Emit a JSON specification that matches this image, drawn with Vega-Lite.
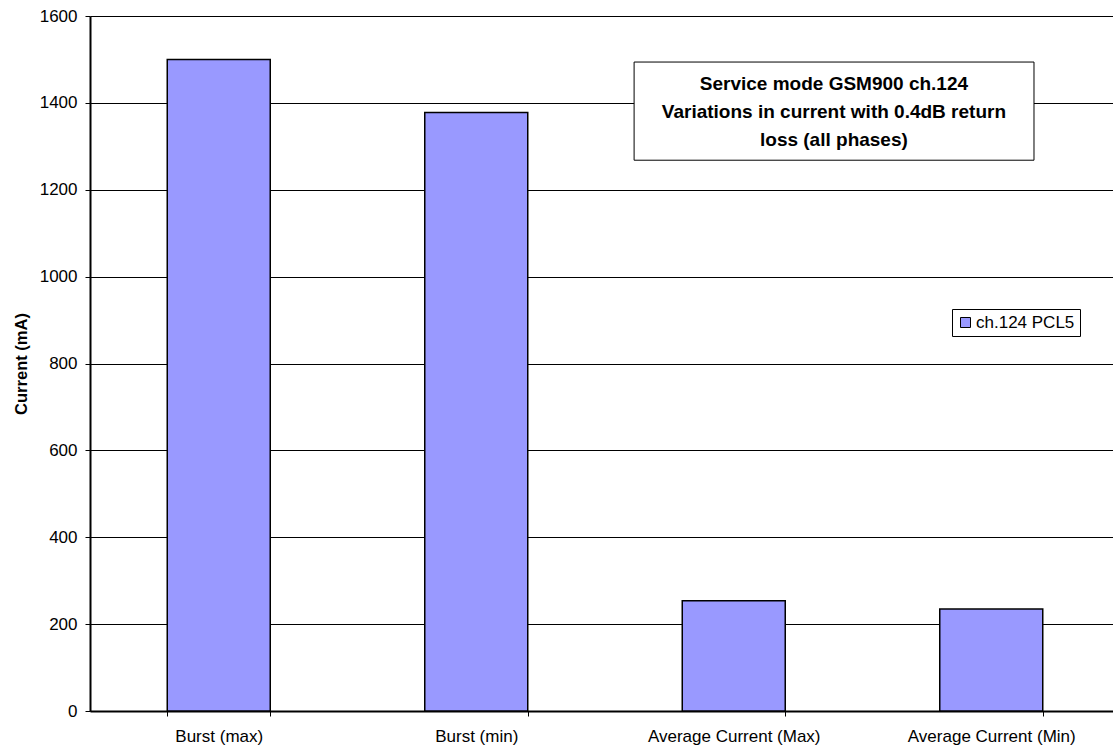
{
  "$schema": "https://vega.github.io/schema/vega-lite/v6.json",
  "width": 1023,
  "height": 695,
  "autosize": {"type": "none"},
  "padding": {"left": 90, "top": 16, "right": 0, "bottom": 40},
  "background": "white",
  "config": {"font": "Liberation Sans", "view": {"stroke": null}},
  "resolve": {"scale": {"x": "independent"}, "axis": {"x": "independent"}},
  "layer": [
    {
      "data": {
        "values": [
          {"category": "Burst (max)", "current": 1500, "series": "ch.124 PCL5"},
          {"category": "Burst (min)", "current": 1378, "series": "ch.124 PCL5"},
          {"category": "Average Current (Max)", "current": 254, "series": "ch.124 PCL5"},
          {"category": "Average Current (Min)", "current": 235, "series": "ch.124 PCL5"}
        ]
      },
      "mark": {"type": "bar", "stroke": "black", "strokeWidth": 1.5},
      "encoding": {
        "x": {
          "field": "category", "type": "nominal", "sort": null,
          "scale": {"paddingInner": 0.6, "paddingOuter": 0.3, "range": [0, 1030]},
          "axis": {"title": null, "labelAngle": 0, "labelFontSize": 17, "labelColor": "black",
                   "tickBand": "extent", "tickSize": 5, "tickColor": "black", "tickWidth": 1,
                   "domainColor": "black", "domainWidth": 2, "labelPadding": 12, "grid": false}
        },
        "y": {
          "field": "current", "type": "quantitative",
          "scale": {"domain": [0, 1600], "nice": false},
          "axis": {"title": "Current (mA)", "values": [0, 200, 400, 600, 800, 1000, 1200, 1400, 1600], "format": "d",
                   "grid": true, "gridColor": "black", "gridOpacity": 1, "gridWidth": 1,
                   "domainColor": "black", "domainWidth": 2, "tickColor": "black", "tickSize": 5,
                   "labelFontSize": 17, "labelColor": "black", "labelPadding": 8,
                   "titleFontSize": 16.5, "titleFontWeight": "bold", "titleColor": "black",
                   "titleX": -64, "titleY": 347.5, "titleBaseline": "alphabetic", "titleAngle": -90, "titleAlign": "center"}
        },
        "fill": {
          "field": "series", "type": "nominal",
          "scale": {"range": ["#9999FF"]},
          "legend": {"title": null, "orient": "none", "legendX": 862, "legendY": 293,
                     "labelFontSize": 17, "labelColor": "black", "symbolType": "square",
                     "symbolSize": 100, "symbolStrokeColor": "black", "symbolStrokeWidth": 1,
                     "strokeColor": "black", "fillColor": "white", "padding": 5, "labelOffset": 2}
        }
      }
    },
    {
      "data": {"values": [{}]},
      "mark": {"type": "rect", "fill": "white", "stroke": "black", "strokeWidth": 1},
      "encoding": {
        "x": {"datum": 2.113, "type": "quantitative", "scale": {"domain": [0, 4], "range": [0, 1030], "nice": false, "zero": false}, "axis": null},
        "x2": {"datum": 3.666},
        "y": {"datum": 1494, "type": "quantitative"},
        "y2": {"datum": 1268}
      }
    },
    {
      "data": {"values": [{}]},
      "mark": {"type": "text", "text": ["Service mode GSM900 ch.124", "Variations in current with 0.4dB return", "loss (all phases)"],
               "fontSize": 19, "fontWeight": "bold", "lineHeight": 28, "align": "center", "baseline": "middle", "color": "black"},
      "encoding": {
        "x": {"datum": 2.889, "type": "quantitative", "scale": {"domain": [0, 4], "range": [0, 1030], "nice": false, "zero": false}, "axis": null},
        "y": {"datum": 1444, "type": "quantitative"}
      }
    }
  ]
}
